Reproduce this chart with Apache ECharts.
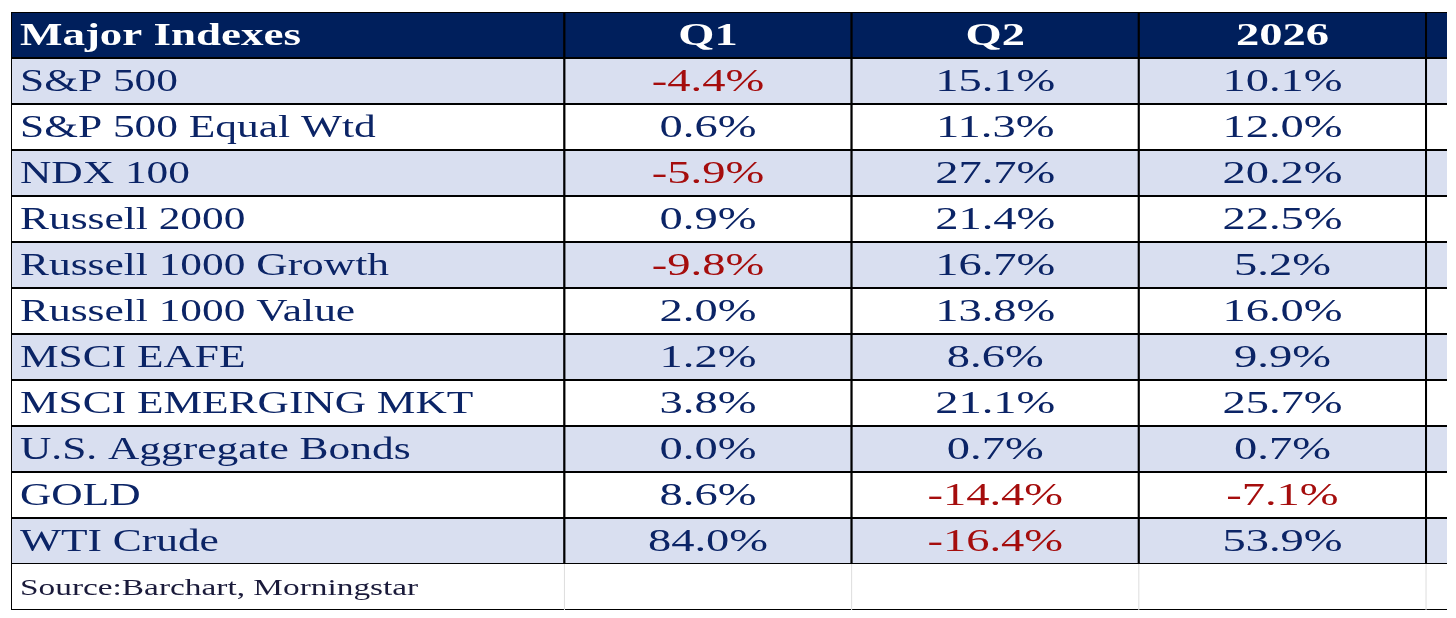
<!DOCTYPE html>
<html>
<head>
<meta charset="utf-8">
<script src="https://cdn.jsdelivr.net/npm/echarts@6/dist/echarts.min.js"></script>
<style>html,body{margin:0;padding:0;background:#fff}#main{width:1456px;height:618px}</style>
</head>
<body>
<div id="main"></div>
<script>
// 表头与数据
var headers = ['Major Indexes', 'Q1', 'Q2', '2026', ''];
var names = ['S&P 500', 'S&P 500 Equal Wtd', 'NDX 100', 'Russell 2000', 'Russell 1000 Growth',
    'Russell 1000 Value', 'MSCI EAFE', 'MSCI EMERGING MKT', 'U.S. Aggregate Bonds', 'GOLD', 'WTI Crude'];
var q1 = [-4.4, 0.6, -5.9, 0.9, -9.8, 2.0, 1.2, 3.8, 0.0, 8.6, 84.0];
var q2 = [15.1, 11.3, 27.7, 21.4, 16.7, 13.8, 8.6, 21.1, 0.7, -14.4, -16.4];
var y2026 = [10.1, 12.0, 20.2, 22.5, 5.2, 16.0, 9.9, 25.7, 0.7, -7.1, 53.9];
var source = 'Source:Barchart, Morningstar';

var colEdges = [0, 1.927, 2.927, 3.927, 4.927, 6];
var rowCats = [];
for (var r = 0; r < names.length + 2; r++) rowCats.push(String(r));

var FONT = '"Liberation Serif", "Times New Roman", serif';
var NAVY = '#0b2466';
var RED = '#a50d0d';

var cells = [];
headers.forEach(function (h, c) { cells.push([c, 0, h, 'head']); });
names.forEach(function (n, i) {
    var vals = [q1[i], q2[i], y2026[i]];
    cells.push([0, i + 1, n, 'name']);
    vals.forEach(function (v, k) { cells.push([k + 1, i + 1, v.toFixed(1) + '%', v < 0 ? 'neg' : 'pos']); });
    cells.push([4, i + 1, '', 'pos']);
});
for (var c = 0; c < 5; c++) cells.push([c, names.length + 1, c === 0 ? source : '', 'src']);

function renderCell(params, api) {
    var c = api.value(0), r = api.value(1);
    var label = cells[params.dataIndex][2];
    var kind = cells[params.dataIndex][3];
    var p0 = api.coord([colEdges[c], r]);
    var p1 = api.coord([colEdges[c + 1], r]);
    var h = api.size([0, 1])[1];
    var x = p0[0], y = p0[1] - h / 2, w = p1[0] - p0[0];
    var fill = '#fff';
    if (kind === 'head') fill = '#001f5c';
    else if (kind !== 'src' && r % 2 === 1) fill = '#d9dff0';
    var children = [{
        type: 'rect',
        shape: { x: x, y: y, width: w, height: h },
        style: { fill: fill, stroke: kind === 'src' ? null : '#000', lineWidth: 2 }
    }];
    if (kind === 'src') {
        children.push({ type: 'line', shape: { x1: x, y1: y + h, x2: x + w, y2: y + h }, style: { stroke: '#000', lineWidth: 2 } });
        if (c === 0) children.push({ type: 'line', shape: { x1: x, y1: y, x2: x, y2: y + h }, style: { stroke: '#000', lineWidth: 2 } });
        else children.push({ type: 'line', shape: { x1: x, y1: y, x2: x, y2: y + h }, style: { stroke: '#ddd', lineWidth: 1 } });
    }
    if (label) {
        var left = (c === 0);
        var sx = kind === 'name' ? 1.4 : (kind === 'src' ? 1.45 : (kind === 'head' && c === 0 ? 1.45 : 1.5));
        children.push({
            type: 'text',
            x: left ? x + 9 : x + w / 2,
            y: y + h / 2 + 2,
            scaleX: sx,
            style: {
                x: 0, y: 0,
                text: label,
                align: left ? 'left' : 'center',
                verticalAlign: 'middle',
                fill: kind === 'head' ? '#fff' : (kind === 'neg' ? RED : (kind === 'src' ? '#1a1a3a' : NAVY)),
                font: (kind === 'head' ? 'bold 31px ' : (kind === 'src' ? '23px ' : '31px ')) + FONT
            }
        });
    }
    return { type: 'group', children: children };
}

var myChart = echarts.init(document.getElementById('main'));
var option = {
    animation: false,
    grid: { left: 11, right: 9, top: 12, bottom: 8 },
    xAxis: { type: 'value', min: 0, max: 5.0, show: false },
    yAxis: { type: 'category', data: rowCats, inverse: true, show: false },
    series: [{
        type: 'custom',
        renderItem: renderCell,
        clip: true,
        data: cells.map(function (d) { return [d[0], d[1]]; })
    }]
};
myChart.setOption(option);
</script>
</body>
</html>
